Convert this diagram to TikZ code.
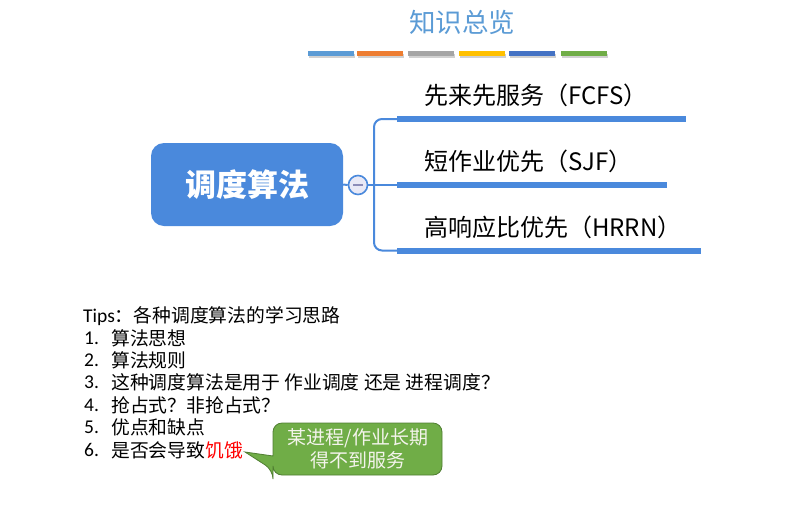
\documentclass[tikz,border=0pt]{standalone}
\usepackage{fontspec}
\newfontfamily\cjk{Noto Sans CJK SC}
\newfontfamily\lat{Carlito}
\definecolor{titleblue}{HTML}{5B9BD5}
\definecolor{mapblue}{HTML}{4A89DC}
\definecolor{cA}{HTML}{5B9BD5}
\definecolor{cB}{HTML}{ED7D31}
\definecolor{cC}{HTML}{A5A5A5}
\definecolor{cD}{HTML}{FFC000}
\definecolor{cE}{HTML}{4472C4}
\definecolor{cF}{HTML}{70AD47}
\definecolor{lav}{HTML}{E9E9F6}
\definecolor{minusc}{HTML}{8C8CB8}
\definecolor{callfill}{HTML}{70AD47}
\definecolor{calledge}{HTML}{507E32}
\definecolor{calltext}{HTML}{F4F4EC}
\tikzset{
  cbar/.style={line width=5pt},
  mapline/.style={draw=mapblue, line width=2pt},
  mapbar/.style={draw=mapblue, line width=6pt},
  branch/.style={anchor=west, inner sep=0pt, font=\cjk\fontsize{24}{28}\selectfont},
  tipline/.style={anchor=west, inner sep=0pt, font=\cjk\fontsize{18.8}{22}\selectfont},
  numlbl/.style={anchor=west, inner sep=0pt, font=\lat\fontsize{19.5}{22}\selectfont},
}
\begin{document}
\begin{tikzpicture}[x=1pt,y=-1pt]
\useasboundingbox (0,0) rectangle (785,504);
% title
\node[text=titleblue, font=\cjk\fontsize{26.5}{30}\selectfont] (title) at (462,22) {知识总览};
% colour bars with shadow
\foreach \a/\b/\c [count=\i] in {308/354/cA,357/403/cB,408/454/cC,459/505/cD,509/555/cE,561/607/cF}{
  \draw[cbar, black!18, line width=4pt] (\a+1,56) -- (\b+1,56);
  \draw[cbar, \c] (\a,53) -- (\b,53);
}
% main node
\node[fill=mapblue, rounded corners=13pt, minimum width=192pt, minimum height=83pt,
      text=white, font=\cjk\bfseries\fontsize{31}{35}\selectfont] (main) at (247,184.5) {调度算法};
% minus circle
\node[circle, draw=mapblue, line width=1.6pt, fill=lav, minimum size=19pt, inner sep=0pt] (minus) at (358,185) {};
\draw[minusc, line width=1.6pt] ([xshift=-5pt]minus.center) -- ([xshift=5pt]minus.center);
% bars
\coordinate (t0) at (397,119);
\coordinate (m0) at (397,185);
\coordinate (b0) at (397,250.5);
\coordinate (t1) at (686,119);
\coordinate (m1) at (667,185);
\coordinate (b1) at (701,250.5);
\draw[mapline] (main.east) -- (minus.west);
\draw[mapline] (minus.east) -- (m0);
\draw[mapline, rounded corners=8pt] (t0) -- (374,119) -- (374,250.5) -- (b0);
\draw[mapbar] (t0) -- (t1);
\draw[mapbar] (m0) -- (m1);
\draw[mapbar] (b0) -- (b1);
% branch labels
\node[branch] (fcfs) at (424,95) {先来先服务（FCFS）};
\node[branch] (sjf) at (424,161) {短作业优先（SJF）};
\node[branch] (hrrn) at (424,227) {高响应比优先（HRRN）};
% tips
\node[tipline] (tips) at (83,316) {{\lat\fontsize{19.5}{22}\selectfont Tips}：各种调度算法的学习思路};
\node[numlbl] (n1) at (84,338) {1.};
\node[numlbl] (n2) at (84,360) {2.};
\node[numlbl] (n3) at (84,382) {3.};
\node[numlbl] (n4) at (84,405) {4.};
\node[numlbl] (n5) at (84,427) {5.};
\node[numlbl] (n6) at (84,450) {6.};
\node[tipline] (l1) at (111,338) {算法思想};
\node[tipline] (l2) at (111,360) {算法规则};
\node[tipline] (l3) at (111,382) {这种调度算法是用于 作业调度 还是 进程调度？};
\node[tipline] (l4) at (111,405) {抢占式？非抢占式？};
\node[tipline] (l5) at (111,427) {优点和缺点};
\node[tipline] (l6) at (111,450) {是否会导致\textcolor{red}{饥饿}};
% callout
\coordinate (tip) at (245,452);
\draw[fill=callfill, draw=calledge, line width=0.8pt]
  (273,470) -- (tip) -- (273,456) [rounded corners=9pt] -- (273,423) -- (442,423) -- (442,475) -- (273,475) -- cycle;
\node[text=calltext, align=center, font=\cjk\fontsize{19}{23}\selectfont] (callout) at (358,449) {某进程/作业长期\\得不到服务};
\end{tikzpicture}
\end{document}
